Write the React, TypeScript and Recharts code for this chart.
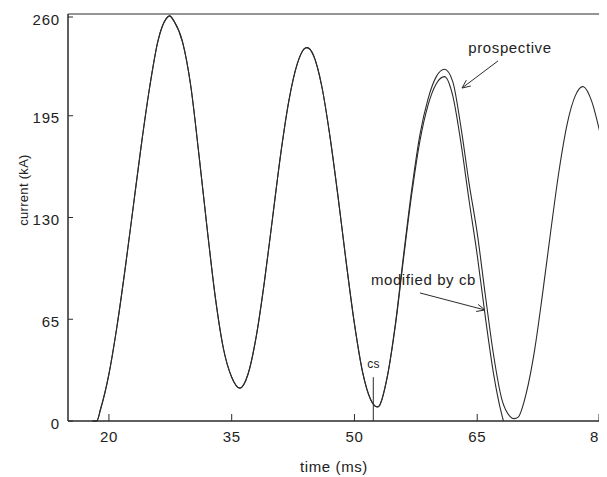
import {
  LineChart,
  Line,
  XAxis,
  YAxis,
  ReferenceArea,
  ReferenceLine,
  ReferenceDot,
} from "recharts";

const INK = "#2b2b2b";
const FONT = "'Liberation Sans', Arial, sans-serif";

const TIME_TICKS = [20, 35, 50, 65, 80];
const CURRENT_TICKS = [0, 65, 130, 195, 260];

// prospective short-circuit current (ms, kA)
const PROSPECTIVE_TIME = [
  18, 18.5, 19, 20, 21, 22, 23, 24, 25, 26, 27, 27.4, 28, 29, 30, 31, 32, 33, 34, 35,
  36, 37, 38, 39, 40, 41, 42, 43, 44, 44.2, 45, 46, 47, 48, 49, 50, 51, 52, 52.8, 53,
  54, 55, 56, 57, 58, 59, 60, 61, 62, 63, 64, 65, 66, 67, 68, 69, 69.5, 70, 71, 72,
  73, 74, 75, 76, 77, 77.9, 78, 79, 80,
];
const PROSPECTIVE_KA = [
  0, 0, 8, 30, 61, 98, 138, 178, 214, 243, 257, 258.8, 255, 242, 214, 170, 123, 79, 46, 28,
  21, 30, 54, 89, 130, 171, 205, 228, 238.3, 238.5, 233.5, 214, 182, 143, 101, 62, 31, 13.4, 9, 9.5,
  28, 62, 106, 148, 183, 206, 220, 224.7, 217, 188, 152, 120, 80, 42, 14, 3, 1.5, 2.5, 18, 45,
  82, 122, 160, 190, 208, 213.6, 213.5, 204, 184,
];

// after contact separation the breaker current departs from the prospective one
const CS_TIME = 52.3;
const MODIFIED_TIME = [52.8, 53, 54, 55, 56, 57, 58, 59, 60, 61, 62, 63, 64, 65, 66, 67, 68, 68.2];
const MODIFIED_KA = [9, 9.5, 28, 61, 104, 145, 179, 202, 215.5, 220, 208, 178, 141, 106, 66, 30, 4, 0];

const prospective = PROSPECTIVE_TIME.map((t, i) => ({ t, kA: PROSPECTIVE_KA[i] }));
const modified = [
  ...prospective.filter((p) => p.t <= 52),
  ...MODIFIED_TIME.map((t, i) => ({ t, kA: MODIFIED_KA[i] })),
];

const textStyle = {
  fontFamily: FONT,
  fill: "#222",
};

function TimeTick(props: any) {
  const { x, y, payload } = props;
  return (
    <g>
      <line x1={x} x2={x} y1={y} y2={y - 7} stroke={INK} />
      <text x={x} y={y + 21} textAnchor="middle" fontSize={15} letterSpacing={0.6} style={textStyle}>
        {payload.value}
      </text>
    </g>
  );
}

function CurrentTick(props: any) {
  const { x, y, payload } = props;
  return (
    <g>
      <line x1={x} x2={x + 5} y1={y} y2={y} stroke={INK} />
      <text
        x={x - 8}
        y={y + 2}
        textAnchor="end"
        dominantBaseline="central"
        fontSize={15}
        letterSpacing={0.8}
        style={textStyle}
      >
        {payload.value}
      </text>
    </g>
  );
}

// line with an open arrowhead at its second end
function Arrow(props: any) {
  const { x1, y1, x2, y2 } = props;
  const a = Math.atan2(y2 - y1, x2 - x1);
  const len = 9;
  const spread = 0.42;
  const p1 = `${x2 - len * Math.cos(a - spread)},${y2 - len * Math.sin(a - spread)}`;
  const p2 = `${x2 - len * Math.cos(a + spread)},${y2 - len * Math.sin(a + spread)}`;
  return (
    <g stroke={INK} strokeWidth={1} fill="none">
      <line x1={x1} y1={y1} x2={x2} y2={y2} />
      <polyline points={`${p1} ${x2},${y2} ${p2}`} />
    </g>
  );
}

const note = (text: string, size: number) => (props: any) => (
  <text
    x={props.cx}
    y={props.cy}
    textAnchor="middle"
    dominantBaseline="central"
    fontSize={size}
    letterSpacing={size > 13 ? 0.6 : 0.3}
    style={textStyle}
  >
    {text}
  </text>
);

export default function App() {
  return (
    <div style={{ width: 599, height: 469 }}>
      <LineChart
        width={599}
        height={469}
        margin={{ top: 6, right: 7, bottom: 6, left: 0 }}
      >
        <XAxis
          type="number"
          dataKey="t"
          domain={[15, 80]}
          ticks={TIME_TICKS}
          allowDataOverflow
          height={50}
          tickSize={0}
          tickMargin={0}
          stroke={INK}
          tick={(p: any) => <TimeTick {...p} />}
          label={{
            content: (p: any) => {
              const vb = p.viewBox;
              return (
                <text
                  x={vb.x + vb.width / 2}
                  y={vb.y + 51}
                  textAnchor="middle"
                  fontSize={15}
                  letterSpacing={0.6}
                  style={textStyle}
                >
                  time (ms)
                </text>
              );
            },
          }}
        />
        <YAxis
          type="number"
          domain={[0, 260]}
          ticks={CURRENT_TICKS}
          width={60}
          tickSize={0}
          tickMargin={0}
          stroke={INK}
          tick={(p: any) => <CurrentTick {...p} />}
          label={{
            content: (p: any) => {
              const vb = p.viewBox;
              const cx = vb.x + 15;
              const cy = vb.y + 176;
              return (
                <text
                  x={cx}
                  y={cy}
                  transform={`rotate(-90, ${cx}, ${cy})`}
                  textAnchor="middle"
                  dominantBaseline="central"
                  fontSize={13}
                  letterSpacing={0.3}
                  style={textStyle}
                >
                  current (kA)
                </text>
              );
            },
          }}
        />
        <ReferenceArea
          x1={15}
          x2={80}
          y1={0}
          y2={260}
          fill="none"
          fillOpacity={0}
          stroke={INK}
          strokeWidth={1}
        />
        <Line
          data={prospective}
          dataKey="kA"
          type="monotone"
          stroke={INK}
          strokeWidth={1.1}
          dot={false}
          isAnimationActive={false}
        />
        <Line
          data={modified}
          dataKey="kA"
          type="monotone"
          stroke={INK}
          strokeWidth={1.1}
          dot={false}
          isAnimationActive={false}
        />
        <ReferenceLine
          segment={[
            { x: CS_TIME, y: 0 },
            { x: CS_TIME, y: 28 },
          ]}
          stroke={INK}
        />
        <ReferenceLine
          segment={[
            { x: 67.53, y: 230 },
            { x: 63.14, y: 212.7 },
          ]}
          shape={Arrow}
        />
        <ReferenceLine
          segment={[
            { x: 58.0, y: 81.8 },
            { x: 65.95, y: 70.9 },
          ]}
          shape={Arrow}
        />
        <ReferenceDot x={69.0} y={238.3} r={1} shape={note("prospective", 15)} />
        <ReferenceDot x={58.43} y={90.1} r={1} shape={note("modified by cb", 15)} />
        <ReferenceDot x={52.33} y={36.7} r={1} shape={note("cs", 12)} />
      </LineChart>
    </div>
  );
}
